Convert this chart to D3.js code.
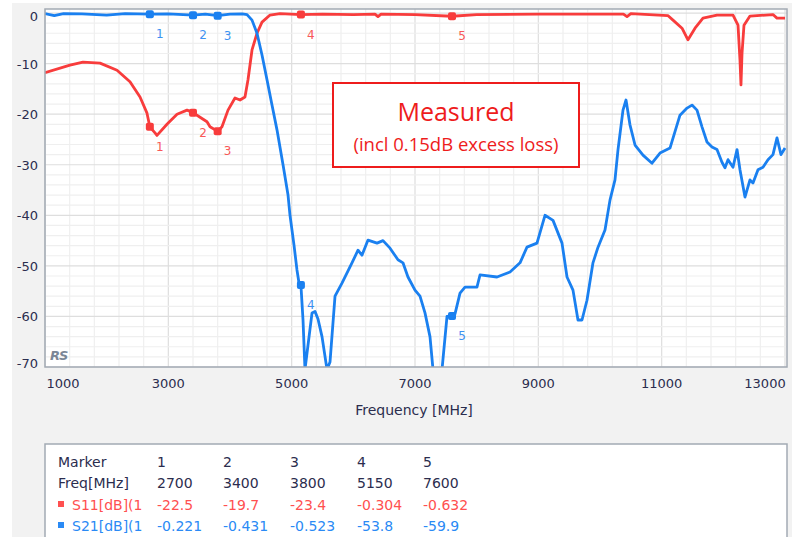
<!DOCTYPE html>
<html>
<head>
<meta charset="utf-8">
<script src="https://cdn.jsdelivr.net/npm/d3@7"></script>
<style>
  body { margin: 0; background: #fff; }
  svg { display: block; font-family: "DejaVu Sans", Verdana, sans-serif; }
</style>
</head>
<body>
<svg id="chart" width="796" height="537"></svg>
<script>
// --- Data ---
const s11Freq = [1000, 1405, 1616, 1892, 2168, 2378, 2541, 2654, 2700, 2784, 2816, 2978, 3141, 3303, 3400, 3514, 3627, 3676, 3800, 3870, 3968, 4081, 4162, 4243, 4292, 4357, 4438, 4519, 4649, 4811, 5150, 5500, 6000, 6351, 6400, 6450, 7000, 7600, 8000, 9000, 10380, 10438, 10500, 11100, 11184, 11330, 11427, 11541, 11670, 11897, 12157, 12238, 12270, 12286, 12303, 12335, 12432, 12805, 12870, 13000];
const s11dB   = [-11.8, -10.3, -9.7, -9.9, -11.3, -13.6, -16.6, -19.8, -22.5, -23.7, -24.2, -22, -20, -19.2, -19.7, -20.6, -21.5, -22.5, -23.4, -22.5, -19.2, -16.8, -17.2, -16.6, -13.2, -7.3, -4, -1.8, -0.4, -0.1, -0.3, -0.2, -0.3, -0.2, -0.7, -0.2, -0.3, -0.63, -0.3, -0.2, -0.2, -0.7, -0.1, -0.5, -1.4, -3, -5.3, -3, -1, -0.4, -0.4, -2.4, -9.3, -14.2, -8, -2.4, -0.6, -0.3, -1, -1];

const s21Freq = [1000, 1150, 1300, 1600, 2000, 2300, 2700, 3000, 3400, 3600, 3800, 4000, 4200, 4276, 4357, 4438, 4519, 4600, 4681, 4762, 4860, 4941, 4973, 5038, 5086, 5119, 5150, 5184, 5216, 5330, 5378, 5427, 5492, 5573, 5622, 5703, 5816, 5978, 6076, 6140, 6238, 6384, 6481, 6595, 6724, 6805, 6886, 7000, 7081, 7162, 7243, 7292, 7438, 7519, 7600, 7649, 7730, 7811, 8005, 8054, 8330, 8541, 8703, 8816, 8978, 9108, 9238, 9384, 9465, 9562, 9643, 9708, 9789, 9886, 9968, 10081, 10162, 10243, 10292, 10373, 10422, 10486, 10568, 10697, 10843, 10973, 11135, 11297, 11411, 11492, 11573, 11654, 11735, 11816, 11897, 11978, 12027, 12076, 12157, 12222, 12270, 12351, 12432, 12481, 12562, 12643, 12724, 12805, 12870, 12935, 13000];
const s21dB   = [-0.1, -0.5, -0.1, -0.15, -0.4, -0.1, -0.22, -0.15, -0.43, -0.2, -0.52, -0.2, -0.15, -0.3, -1.4, -4, -8.3, -13.2, -18.2, -23.1, -30, -36, -40, -45.9, -50.8, -53.4, -53.8, -60.7, -70.5, -59.3, -59, -60.5, -64, -70.5, -69, -56, -53.4, -49.4, -46.9, -47.9, -44.9, -45.5, -45, -46.5, -48.8, -49.4, -52.2, -54.8, -56, -59.3, -64, -70.5, -70.5, -60, -59.9, -59.5, -55.4, -54.2, -54.2, -51.8, -52.2, -51.2, -49.4, -46.3, -45.5, -40, -41, -45.5, -52.2, -54.8, -60.7, -60.7, -56.8, -49.4, -46.3, -42.9, -37, -33, -27, -19.2, -17.2, -22.1, -26.1, -28.1, -29.7, -27.7, -26.7, -20.2, -18.8, -18.2, -19.2, -22.5, -25.5, -26.5, -27, -29.5, -30.6, -29, -30.5, -27, -31, -36.4, -33, -33.6, -31, -30.5, -29, -28, -24.7, -28, -26.7];

const markerIds = ['1', '2', '3', '4', '5'];
const markerFreq = [2700, 3400, 3800, 5150, 7600];
const markerS11 = [-22.5, -19.7, -23.4, -0.304, -0.632];
const markerS21 = [-0.221, -0.431, -0.523, -53.8, -59.9];
const markerS11Text = ['-22.5', '-19.7', '-23.4', '-0.304', '-0.632'];
const markerS21Text = ['-0.221', '-0.431', '-0.523', '-53.8', '-59.9'];

const xTicks = [1000, 3000, 5000, 7000, 9000, 11000, 13000];
const yTicks = [0, -10, -20, -30, -40, -50, -60, -70];

const RED = '#f83c3c';
const BLUE = '#1a80f0';
const TEXT = '#2b2d4e';

// --- Layout ---
const svg = d3.select('#chart');
const plot = { left: 45, right: 787, top: 9, bottom: 367 };

const x = d3.scaleLinear().domain([1000, 13000]).range([plot.left, plot.right - 2]);
const y = d3.scaleLinear().domain([-70, 0.8]).range([plot.bottom, plot.top]);

// gray panel
svg.append('rect').attr('x', 12).attr('y', 3).attr('width', 780).attr('height', 534).attr('fill', '#f2f2f2');
svg.append('rect').attr('x', plot.left).attr('y', plot.top)
    .attr('width', plot.right - plot.left).attr('height', plot.bottom - plot.top).attr('fill', '#fff');

// grid
const grid = svg.append('g');
d3.range(1000, 13001, 400).forEach(f => {
    grid.append('line').attr('x1', x(f)).attr('x2', x(f)).attr('y1', plot.top).attr('y2', plot.bottom)
        .attr('stroke', f % 2000 === 1000 ? '#dedede' : '#efefef').attr('stroke-width', 1.2);
});
d3.range(0, -71, -2).forEach(v => {
    grid.append('line').attr('x1', plot.left).attr('x2', plot.right).attr('y1', y(v)).attr('y2', y(v))
        .attr('stroke', v % 10 === 0 ? '#dedede' : '#efefef').attr('stroke-width', 1.2);
});

// axes labels
const xLabelPos = d => d === 1000 ? x(d) + 18 : (d === 13000 ? x(d) - 20 : x(d));
svg.append('g').selectAll('text').data(xTicks).join('text')
    .attr('x', xLabelPos).attr('y', 388).attr('text-anchor', 'middle')
    .attr('font-size', 13).attr('fill', TEXT).text(d => d);
svg.append('g').selectAll('text').data(yTicks).join('text')
    .attr('x', 38).attr('y', d => d === 0 ? y(d) + 8 : (d === -70 ? y(d) + 1 : y(d) + 5)).attr('text-anchor', 'end')
    .attr('font-size', 13).attr('fill', TEXT).text(d => d);
svg.append('text').attr('x', 414).attr('y', 415).attr('text-anchor', 'middle')
    .attr('font-size', 14).attr('fill', TEXT).text('Frequency [MHz]');

svg.append('text').attr('x', 50).attr('y', 360).attr('font-size', 13).attr('font-style', 'italic')
    .attr('font-weight', 'bold').attr('fill', '#7a8696').attr('letter-spacing', -1).text('RS');

// curves
svg.append('defs').append('clipPath').attr('id', 'plotClip').append('rect')
    .attr('x', plot.left).attr('y', plot.top).attr('width', plot.right - plot.left).attr('height', plot.bottom - plot.top);
const curves = svg.append('g').attr('clip-path', 'url(#plotClip)');
const line = d3.line().x(d => x(d[0])).y(d => y(d[1]));

curves.append('path').datum(d3.zip(s11Freq, s11dB))
    .attr('d', line).attr('fill', 'none').attr('stroke', RED).attr('stroke-width', 2.8).attr('stroke-linejoin', 'round');
curves.append('path').datum(d3.zip(s21Freq, s21dB))
    .attr('d', line).attr('fill', 'none').attr('stroke', BLUE).attr('stroke-width', 2.8).attr('stroke-linejoin', 'round');

// markers
[[markerS11, RED], [markerS21, BLUE]].forEach(([vals, color]) => {
    const g = curves.append('g');
    g.selectAll('rect').data(markerFreq).join('rect')
        .attr('x', d => x(d) - 4).attr('y', (d, i) => y(vals[i]) - 4)
        .attr('width', 8).attr('height', 8).attr('rx', 2).attr('fill', color);
    g.selectAll('text').data(markerIds).join('text')
        .attr('x', (d, i) => x(markerFreq[i]) + 10).attr('y', (d, i) => y(vals[i]) + 24)
        .attr('text-anchor', 'middle').attr('font-size', 12).attr('fill', color).attr('opacity', 0.85).text(d => d);
});

// plot border
svg.append('rect').attr('x', plot.left).attr('y', plot.top)
    .attr('width', plot.right - plot.left).attr('height', plot.bottom - plot.top)
    .attr('fill', 'none').attr('stroke', '#a3aab4').attr('stroke-width', 1.5);

// annotation box
svg.append('rect').attr('x', 333).attr('y', 83).attr('width', 246).attr('height', 84)
    .attr('fill', '#fff').attr('stroke', '#ee1c1c').attr('stroke-width', 2);
svg.append('text').attr('x', 456).attr('y', 121).attr('text-anchor', 'middle')
    .attr('font-family', '"Open Sans", sans-serif').attr('font-size', 25).attr('fill', '#ee1c1c').text('Measured');
svg.append('text').attr('x', 456).attr('y', 151).attr('text-anchor', 'middle')
    .attr('font-family', '"Open Sans", sans-serif').attr('font-size', 18.5).attr('fill', '#ee1c1c').text('(incl 0.15dB excess loss)');

// marker table
svg.append('rect').attr('x', 45).attr('y', 444).attr('width', 742).attr('height', 100)
    .attr('fill', '#fff').attr('stroke', '#a3aab4').attr('stroke-width', 1.5);
const colX = [157, 223, 290, 357, 423];
const rowY = [467, 488, 510, 531];
const table = svg.append('g').attr('font-size', 14);
table.append('text').attr('x', 58).attr('y', rowY[0]).attr('fill', TEXT).text('Marker');
table.append('text').attr('x', 58).attr('y', rowY[1]).attr('fill', TEXT).text('Freq[MHz]');
svg.append('defs').append('clipPath').attr('id', 'nameClip').append('rect')
    .attr('x', 50).attr('y', 490).attr('width', 92).attr('height', 47);
[['S11[dB](1)', markerS11Text, '#ff5050', rowY[2]], ['S21[dB](1)', markerS21Text, '#2a8af5', rowY[3]]].forEach(([name, vals, color, ry]) => {
    table.append('rect').attr('x', 58).attr('y', ry - 9).attr('width', 6).attr('height', 6).attr('fill', color);
    table.append('text').attr('x', 72).attr('y', ry).attr('fill', color).attr('clip-path', 'url(#nameClip)').text(name);
    table.append('g').selectAll('text').data(vals).join('text')
        .attr('x', (d, i) => colX[i]).attr('y', ry).attr('fill', color).text(d => d);
});
table.append('g').selectAll('text').data(markerIds).join('text')
    .attr('x', (d, i) => colX[i]).attr('y', rowY[0]).attr('fill', TEXT).text(d => d);
table.append('g').selectAll('text').data(markerFreq).join('text')
    .attr('x', (d, i) => colX[i]).attr('y', rowY[1]).attr('fill', TEXT).text(d => d);
</script>
</body>
</html>
